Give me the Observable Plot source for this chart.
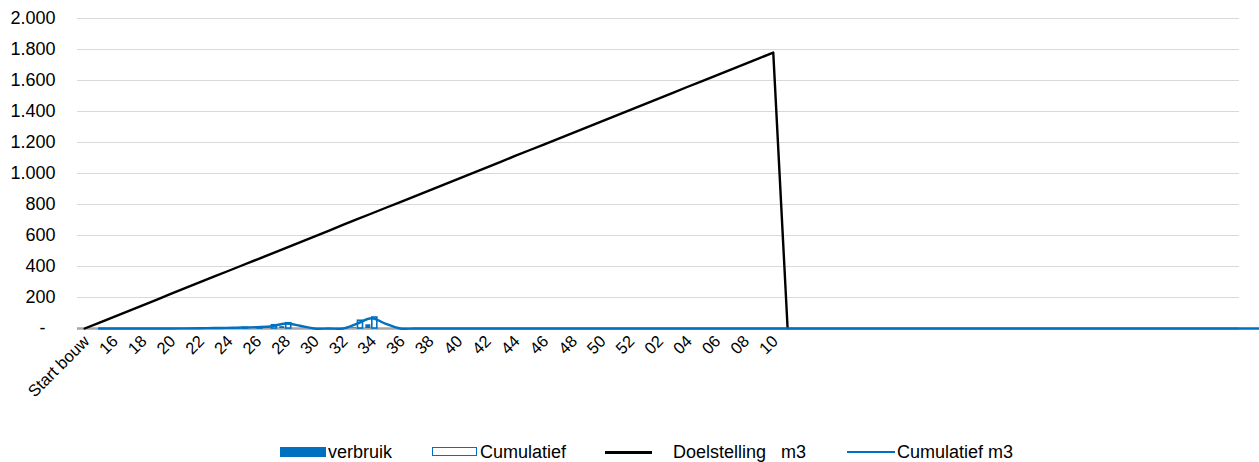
<!DOCTYPE html>
<html>
<head>
<meta charset="utf-8">
<script src="https://cdn.jsdelivr.net/npm/d3@7"></script>
<script src="https://cdn.jsdelivr.net/npm/@observablehq/plot@0.6"></script>
<style>
  html, body { margin: 0; padding: 0; background: #fff; }
  #wrap { position: relative; width: 1259px; height: 462px; font-family: "Liberation Sans", Arial, sans-serif; }
  #legend { position: absolute; left: 0; top: 441px; width: 1259px; height: 22px; font-size: 18px; color: #000; }
  .item { position: absolute; top: 0; height: 22px; line-height: 22px; white-space: pre; }
  .sw { position: absolute; }
</style>
</head>
<body>
<div id="wrap">
  <div id="chart"></div>
  <div id="legend"></div>
</div>
<script>
// Categories (index 0 = "Start bouw", then week numbers)
const categories = ["Start bouw",
  "15","16","17","18","19","20","21","22","23","24","25","26","27","28","29","30","31","32","33","34",
  "35","36","37","38","39","40","41","42","43","44","45","46","47","48","49","50","51","52",
  "01","02","03","04","05","06","07","08","09","10","11","12","13","14","15","16","17","18","19","20",
  "21","22","23","24","25","26","27","28","29","30","31","32","33","34","35","36","37","38","39","40","41","42"];

// Tick labels shown on the x axis
const xTickLabels = ["Start bouw","16","18","20","22","24","26","28","30","32","34","36","38","40","42","44","46","48","50","52","02","04","06","08","10"];

// Y axis ticks
const yTicks = [0,200,400,600,800,1000,1200,1400,1600,1800,2000];

// Doelstelling m3 (category 0 .. 49)
const doelstelling = [0,37,74,111,148,185,223,260,297,334,371,408,445,482,519,556,593,630,668,705,
  742,779,816,853,890,927,964,1001,1038,1075,1113,1150,1187,1224,1261,1298,1335,1372,1409,1446,
  1483,1520,1558,1595,1632,1669,1706,1743,1780,0];

// verbruik (category 0 .. 48)
const verbruik = [0,0,0,0,0,0,0,0,0,0,0,2,3,6,12,0,0,0,0,4,24,0,0,0,0,0,0,0,0,0,
  0,0,0,0,0,0,0,0,0,0,0,0,0,0,0,0,0,0,0];

// Cumulatief bars (category 0 .. 48)
const cumulatief = [0,0,0,0,0,0,0,0,0,1,2,4,7,21,34,0,0,0,0,50,71,0,0,0,0,0,0,0,0,0,
  0,0,0,0,0,0,0,0,0,0,0,0,0,0,0,0,0,0,0];

// Cumulatief m3 line (category 1 .. 82)
const cumM3 = [0,0,0,0,0,0,1,2,3,4,6,9,14,32,18,0,0,0,32,66,30,0,0,0,0,0,0,0,0,0,
  0,0,0,0,0,0,0,0,0,0,0,0,0,0,0,0,0,0,0,0,0,0,0,0,0,0,0,0,0,0,
  0,0,0,0,0,0,0,0,0,0,0,0,0,0,0,0,0,0,0,0,0,0];

const blue = "#0070C0";
const doelData = doelstelling.map((v, i) => ({i, v}));
const verbData = verbruik.map((v, i) => ({i, v})).filter(d => d.v > 0);
const cumData = cumulatief.map((v, i) => ({i, v})).filter(d => d.v > 0);
const m3Data = cumM3.map((v, k) => ({i: k + 1, v}));
const tickIdx = xTickLabels.map(l => categories.indexOf(l));

const fmtY = v => v === 0 ? "-\u00a0\u00a0" : d3.format(",")(v).replace(/,/g, ".");

const chart = Plot.plot({
  width: 1259,
  height: 430,
  marginLeft: 77,
  marginRight: 20,
  marginTop: 18,
  marginBottom: 102,
  style: {fontFamily: "'Liberation Sans', Arial, sans-serif", fontSize: "18px", color: "#000", background: "#fff", overflow: "hidden"},
  x: {type: "linear", domain: [-0.5, categories.length - 0.5], axis: null},
  y: {domain: [0, 2000], axis: null},
  marks: [
    Plot.ruleY(yTicks.filter(t => t > 0), {stroke: "#d9d9d9", strokeWidth: 1.2}),
    Plot.ruleY([0], {stroke: "#a6a6a6", strokeWidth: 2.5}),
    Plot.axisY({ticks: yTicks, tickFormat: fmtY, tickSize: 0, tickPadding: 22, fontSize: 18, fill: "#000", label: null}),
    Plot.axisX({ticks: tickIdx, tickFormat: i => categories[i], tickSize: 0, tickPadding: 10, dx: 2, tickRotate: -45, fontSize: 16.5, fill: "#000", label: null}),
    Plot.rectY(verbData, {x1: d => d.i - 0.4, x2: d => d.i - 0.05, y: "v", fill: blue}),
    Plot.rectY(cumData, {x1: d => d.i + 0.05, x2: d => d.i + 0.4, y: "v", fill: "#fff", stroke: blue, strokeWidth: 1.6}),
    Plot.line(doelData, {x: "i", y: "v", stroke: "#000", strokeWidth: 2.4}),
    Plot.line(m3Data, {x: "i", y: "v", stroke: blue, strokeWidth: 2.4, curve: "catmull-rom"})
  ]
});
document.getElementById("chart").appendChild(chart);

// Legend
const legendItems = [
  {label: "verbruik", kind: "fill", sx: 280, tx: 328},
  {label: "Cumulatief", kind: "outline", sx: 432, tx: 480},
  {label: "Doelstelling   m3", kind: "black", sx: 605, tx: 673},
  {label: "Cumulatief m3", kind: "blue", sx: 847, tx: 897}
];
const legend = document.getElementById("legend");
for (const it of legendItems) {
  const sw = document.createElement("div");
  sw.className = "sw";
  sw.style.left = it.sx + "px";
  if (it.kind === "fill") { sw.style.width = "46px"; sw.style.height = "10px"; sw.style.top = "6px"; sw.style.background = blue; }
  if (it.kind === "outline") { sw.style.width = "43px"; sw.style.height = "7px"; sw.style.top = "6px"; sw.style.border = "1.5px solid " + blue; sw.style.background = "#fff"; }
  if (it.kind === "black") { sw.style.width = "47px"; sw.style.height = "3px"; sw.style.top = "10px"; sw.style.background = "#000"; }
  if (it.kind === "blue") { sw.style.width = "48px"; sw.style.height = "2px"; sw.style.top = "10px"; sw.style.background = blue; }
  legend.appendChild(sw);
  const t = document.createElement("div");
  t.className = "item";
  t.style.left = it.tx + "px";
  t.textContent = it.label;
  legend.appendChild(t);
}
</script>
</body>
</html>
